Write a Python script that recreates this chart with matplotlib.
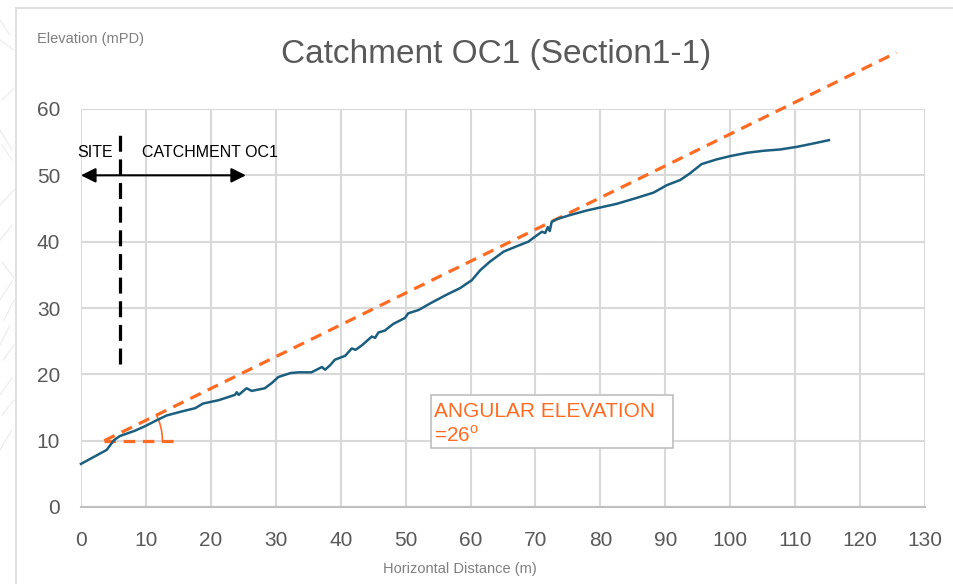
import numpy as np
import matplotlib
matplotlib.use("Agg")
import matplotlib.pyplot as plt
from matplotlib import font_manager
from matplotlib.lines import Line2D
from matplotlib.patches import Rectangle

# ---------------- data ----------------
profile_x = [0, 3.95, 5.1, 6.0, 8.3, 9.9, 11.7, 13.2, 15.5, 17.6, 18.8, 21.2, 23.7, 24.0, 24.3,
             25.0, 25.5, 26.3, 28.3, 29.4, 30.4, 32.3, 33.5, 35.5, 37.1, 37.6, 38.4, 39.1,
             40.7, 41.7, 42.3, 43.3, 44.8, 45.3, 45.8, 46.8, 48.1, 49.9, 50.4, 52.0, 53.8,
             56.3, 58.4, 60.2, 61.5, 63.0, 65.1, 67.1, 68.9, 70.0, 71.0, 71.5, 71.9, 72.2,
             72.5, 73.3, 75.3, 77.9, 80.2, 82.5, 85.6, 88.2, 90.2, 92.3, 93.8, 95.6, 97.9,
             100.0, 102.6, 105.1, 107.7, 110.3, 112.8, 115.2]
profile_y = [6.5, 8.6, 10.1, 10.7, 11.5, 12.2, 13.1, 13.8, 14.4, 14.9, 15.6, 16.1, 16.9, 17.3, 16.9,
             17.5, 17.9, 17.5, 17.9, 18.7, 19.6, 20.2, 20.3, 20.3, 21.1, 20.7, 21.4, 22.2,
             22.8, 23.9, 23.7, 24.4, 25.7, 25.5, 26.3, 26.6, 27.6, 28.5, 29.2, 29.7, 30.7,
             32.0, 33.0, 34.2, 35.7, 37.0, 38.5, 39.3, 40.0, 40.8, 41.5, 41.3, 42.2, 41.6,
             43.0, 43.4, 44.0, 44.7, 45.2, 45.7, 46.6, 47.4, 48.5, 49.3, 50.3, 51.7, 52.4,
             52.9, 53.4, 53.7, 53.9, 54.3, 54.8, 55.3]

slope_x = [3.6, 125.6]          # angular elevation line
slope_y = [10.0, 68.5]
base_x = [3.6, 14.7]            # horizontal reference
base_y = [10.0, 10.0]
site_x = [6.0, 6.0]             # site boundary
site_y = [21.6, 57.0]
arrow_x = [0.0, 25.4]
arrow_y = 50.0
angle_deg = 26

x_ticks = list(range(0, 131, 10))
y_ticks = list(range(0, 61, 10))

# ---------------- style ----------------
names = {f.name for f in font_manager.fontManager.ttflist}
REG = 'Liberation Sans' if 'Liberation Sans' in names else 'DejaVu Sans'
NARROW = 'Liberation Sans Narrow' if 'Liberation Sans Narrow' in names else REG
plt.rcParams['font.family'] = [REG, 'DejaVu Sans']

TEAL = '#1B5E7E'
ORANGE = '#FF6B22'
GRID = '#D9D9D9'
GRAYTXT = '#595959'

W, H = 954, 584
fig = plt.figure(figsize=(W / 100, H / 100), dpi=100)
fig.patch.set_facecolor('white')

def fx(px):
    return px / W

def fy(py):
    return 1 - py / H

# outer chart frame and faint background decoration at the left edge
fig.add_artist(Line2D([fx(16), fx(16)], [fy(8), 0], color='#E0E0E0', lw=1.5))
fig.add_artist(Line2D([fx(16), 1], [fy(8), fy(8)], color='#E0E0E0', lw=1.5))
deco = [((0, 20), (10, 35)), ((0, 40), (14, 50)), ((2, 100), (14, 88)), ((0, 130), (12, 150)),
        ((2, 145), (12, 160)), ((0, 205), (14, 190)), ((0, 240), (12, 225)), ((2, 262), (14, 278)),
        ((0, 300), (13, 280)), ((4, 320), (14, 300)), ((0, 345), (10, 325)), ((3, 360), (14, 345)),
        ((0, 395), (12, 378)), ((2, 415), (14, 400)), ((0, 450), (12, 430))]
for (x0, y0), (x1, y1) in deco:
    fig.add_artist(Line2D([fx(x0), fx(x1)], [fy(y0), fy(y1)], color='#EBEBEB', lw=0.8))

ax = fig.add_axes([fx(81), fy(507), fx(925) - fx(81), fy(109) - fy(507)])
ax.set_xlim(0, 130)
ax.set_ylim(0, 60)
ax.set_xticks(x_ticks)
ax.set_yticks(y_ticks)
ax.grid(True, color=GRID, lw=1.5)
ax.set_axisbelow(True)
for s in ['top', 'right', 'left']:
    ax.spines[s].set_visible(False)
ax.spines['bottom'].set_color('#BFBFBF')
ax.spines['bottom'].set_linewidth(1.5)
ax.tick_params(length=0, labelsize=15, labelcolor=GRAYTXT)
ax.tick_params(axis='x', pad=17)
ax.tick_params(axis='y', pad=15)
for lab in ax.get_xticklabels():
    lab.set_fontfamily(NARROW)

# profile
ax.plot(profile_x, profile_y, color=TEAL, lw=1.8, zorder=4, clip_on=False)

# angular elevation dashed line
ax.plot(slope_x, slope_y, color=ORANGE, lw=2.3, linestyle=(0, (3.6, 2.4)), zorder=3,
        clip_on=False)
ax.plot(base_x, base_y, color=ORANGE, lw=2.3, linestyle=(0, (3.6, 2.4)), zorder=3)

# angle arc (radius ~58 px)
rx, ry = 58 / 6.49, 58 / 6.63
t = np.radians(np.linspace(0, angle_deg, 40))
ax.plot(slope_x[0] + rx * np.cos(t), slope_y[0] + ry * np.sin(t), color=ORANGE, lw=1.2, zorder=3)

# site boundary
ax.plot(site_x, site_y, color='black', lw=2.3, linestyle=(0, (5, 2.4)), zorder=5)

# double arrow
ax.annotate('', xy=(arrow_x[0], arrow_y), xytext=(arrow_x[1], arrow_y),
            arrowprops=dict(arrowstyle='<|-|>', color='black', lw=1.5, mutation_scale=22,
                            shrinkA=0, shrinkB=0), annotation_clip=False, zorder=5)
ax.text(-0.5, 52.7, 'SITE', fontsize=11.5, color='black', va='baseline', ha='left', clip_on=False)
ax.text(9.35, 52.7, 'CATCHMENT OC1', fontsize=11.5, color='black', va='baseline', ha='left')

# annotation box
ax.add_patch(Rectangle((53.9, 8.9), 91.2 - 53.9, 16.9 - 8.9, facecolor='white',
                       edgecolor='#BFBFBF', lw=1.2, zorder=6, clip_on=False))
ax.text(54.3, 13.6, 'ANGULAR ELEVATION', fontsize=15, color=ORANGE, va='baseline', zorder=7)
ax.text(54.3, 9.85, '=26$^{\\mathregular{o}}$', fontsize=15, color=ORANGE, va='baseline', zorder=7)

# titles
fig.text(fx(496), fy(63), 'Catchment OC1 (Section1-1)', fontsize=24, color=GRAYTXT,
         ha='center', va='baseline')
fig.text(fx(37), fy(42.5), 'Elevation (mPD)', fontsize=10.5, color='#7F7F7F', ha='left',
         va='baseline')
fig.text(fx(460), fy(569), 'Horizontal Distance (m)', fontsize=10.5, color='#7F7F7F',
         ha='center', va='center', family=NARROW)

fig.savefig('out.png', dpi=100, facecolor='white')
